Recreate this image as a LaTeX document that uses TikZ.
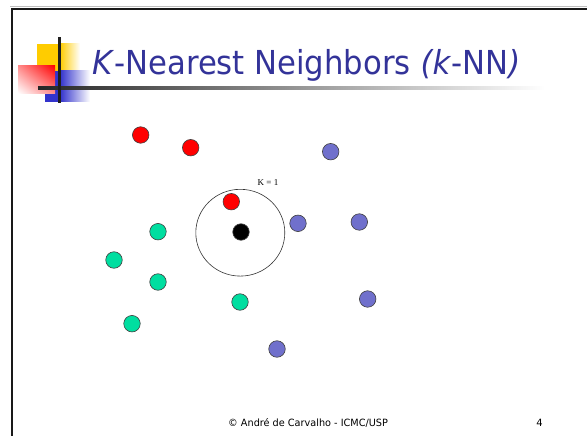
\documentclass[tikz,border=0pt]{standalone}
\usepackage{fontspec}
\setmainfont{DejaVu Sans}
\newfontfamily\serifface{Liberation Serif}
\usetikzlibrary{shadings}
\definecolor{titleblue}{RGB}{51,51,153}
\definecolor{classred}{RGB}{255,0,0}
\definecolor{classblue}{RGB}{112,112,204}
\definecolor{classgreen}{RGB}{0,222,160}
\definecolor{decoyellow}{RGB}{255,204,0}
\definecolor{decoblue}{RGB}{51,51,204}
\begin{document}
\begin{tikzpicture}[x=1pt,y=-1pt,
  dot/.style={circle,draw=black!75,line width=0.6pt,minimum size=16.5pt,inner sep=0pt},
  reddot/.style={dot,fill=classred},
  bluedot/.style={dot,fill=classblue},
  greendot/.style={dot,fill=classgreen},
  querydot/.style={dot,fill=black},
  footer/.style={font=\fontsize{10}{12}\selectfont,text=black,inner sep=0pt}]
\useasboundingbox (0,0) rectangle (587,436);
\fill[white] (0,0) rectangle (587,436);

% slide frame
\draw[black!25,line width=1pt] (10,7) -- (600,7);
\draw[black!90,line width=2pt] (11.5,460) -- (11.5,8.6) -- (600,8.6);

% title ornament
\fill[decoyellow] (36.7,44) rectangle (60,71);
\shade[left color=decoyellow,right color=white] (60,44) rectangle (80,71);
\fill[decoblue] (45,71) rectangle (60,101.7);
\shade[left color=decoblue,right color=white] (60,71) rectangle (90,101.7);
\shade[upper right=classred,upper left=classred!45,lower right=classred!45,lower left=white]
  (18,65.7) rectangle (55,93.3);
\shade[left color=black!85,right color=white] (38,86.9) rectangle (545,89.9);
\fill[black!88] (57.8,36.7) rectangle (61,103.5);

% title
\node[anchor=base west,inner sep=0pt,text=titleblue,xscale=0.93,
      font=\fontsize{33}{40}\selectfont] (title) at (92,75)
  {\textit{K}-Nearest Neighbors \textit{(k}-NN\textit{)}};

% neighbourhood of the query point
\node[circle,draw=black!80,line width=0.6pt,minimum width=89pt,minimum height=87pt,inner sep=0pt,
      xscale=1,yscale=0.975] (hood) at (240.3,232.7) {};
\node[font=\serifface\fontsize{9}{10}\selectfont,inner sep=0pt] (klabel) at (268,183) {K = 1};

% class 1 (red)
\node[reddot] (r1) at (140.7,135) {};
\node[reddot] (r2) at (190.7,147.7) {};
\node[reddot] (r3) at (231.3,201.7) {};

% class 2 (blue)
\node[bluedot] (b1) at (330.7,151.7) {};
\node[bluedot] (b2) at (298,223.3) {};
\node[bluedot] (b3) at (359.3,222) {};
\node[bluedot] (b4) at (367.7,299) {};
\node[bluedot] (b5) at (277,349) {};

% class 3 (green)
\node[greendot] (g1) at (158,231.7) {};
\node[greendot] (g2) at (114,260) {};
\node[greendot] (g3) at (158,282) {};
\node[greendot] (g4) at (240,302) {};
\node[greendot] (g5) at (132,323.7) {};

% query point
\node[querydot] (q) at (241,232) {};

% footer
\node[footer,anchor=base west,xscale=0.97] (credit) at (228,426) {© André de Carvalho - ICMC/USP};
\node[footer,anchor=base] (page) at (539.5,426) {4};
\end{tikzpicture}
\end{document}
